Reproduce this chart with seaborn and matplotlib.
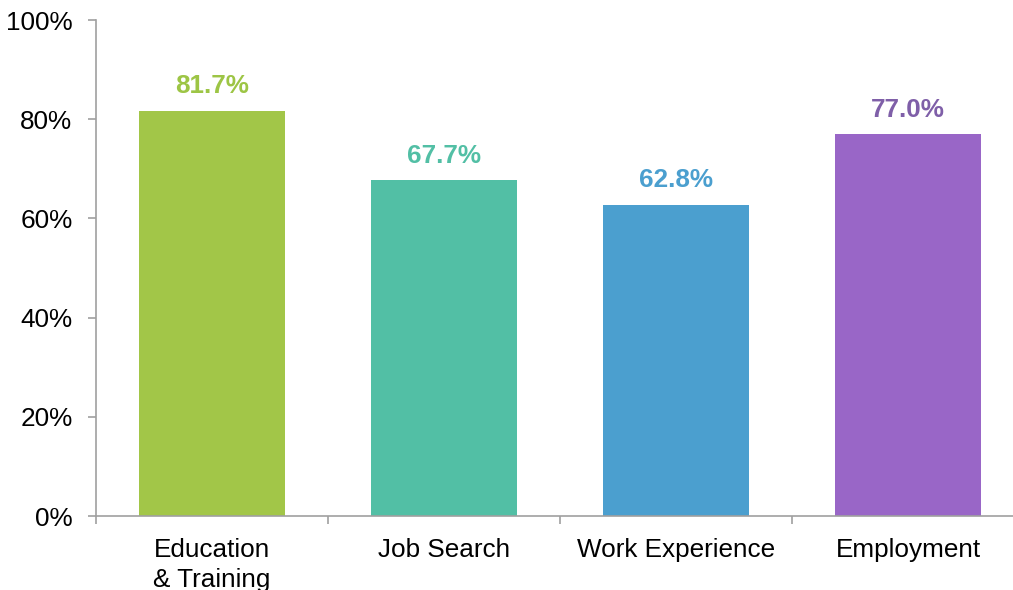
import matplotlib
matplotlib.use("Agg")
import matplotlib.pyplot as plt
import seaborn as sns
import pandas as pd
from matplotlib.ticker import FixedLocator

categories = ["Education\n& Training", "Job Search", "Work Experience", "Employment"]
values = [81.7, 67.7, 62.8, 77.0]
bar_colors = ["#A2C648", "#52BFA5", "#4B9FCF", "#9966C7"]
label_colors = ["#9DC545", "#52BFA5", "#4B9FCF", "#7F5FA8"]
y_ticks = [0, 20, 40, 60, 80, 100]

sns.set_theme(style="white")
plt.rcParams["font.family"] = ["Liberation Sans", "DejaVu Sans"]

df = pd.DataFrame({"category": categories, "value": values})

fig = plt.figure(figsize=(10.13, 5.90), dpi=100)
ax = fig.add_axes([96 / 1013, 1 - 516 / 590, 1 - 96 / 1013, (516 - 20) / 590])

sns.barplot(data=df, x="category", y="value", hue="category",
            palette=bar_colors, width=0.63, legend=False, ax=ax,
            saturation=1, linewidth=0)

for i, (v, c) in enumerate(zip(values, label_colors)):
    ax.annotate(f"{v:.1f}%", (i, v), xytext=(0, 17.5), textcoords="offset points",
                ha="center", va="center", fontsize=18.8, fontweight="bold", color=c)

ax.set_ylim(0, 100)
ax.set_xlim(-0.5, (1013 - 96) / 232 - 0.5)
ax.set_yticks(y_ticks)
ax.set_yticklabels([f"{t}%" for t in y_ticks])
ax.set_xlabel("")
ax.set_ylabel("")

for s in ["top", "right"]:
    ax.spines[s].set_visible(False)
for s in ["left", "bottom"]:
    ax.spines[s].set_color("#A0A0A0")
    ax.spines[s].set_linewidth(1.2)

ax.tick_params(axis="y", which="major", left=True, length=6, width=1.2,
               color="#A0A0A0", labelsize=18.8, labelcolor="black", pad=11)
ax.tick_params(axis="x", which="major", bottom=False, length=0,
               labelsize=18.8, labelcolor="black", pad=16)
for lbl in ax.get_xticklabels():
    lbl.set_linespacing(1.3)
ax.xaxis.set_minor_locator(FixedLocator([-0.5, 0.5, 1.5, 2.5]))
ax.tick_params(axis="x", which="minor", bottom=True, length=6, width=1.2,
               color="#A0A0A0", direction="out")
ax.grid(False)

fig.savefig("out.png", dpi=100)
